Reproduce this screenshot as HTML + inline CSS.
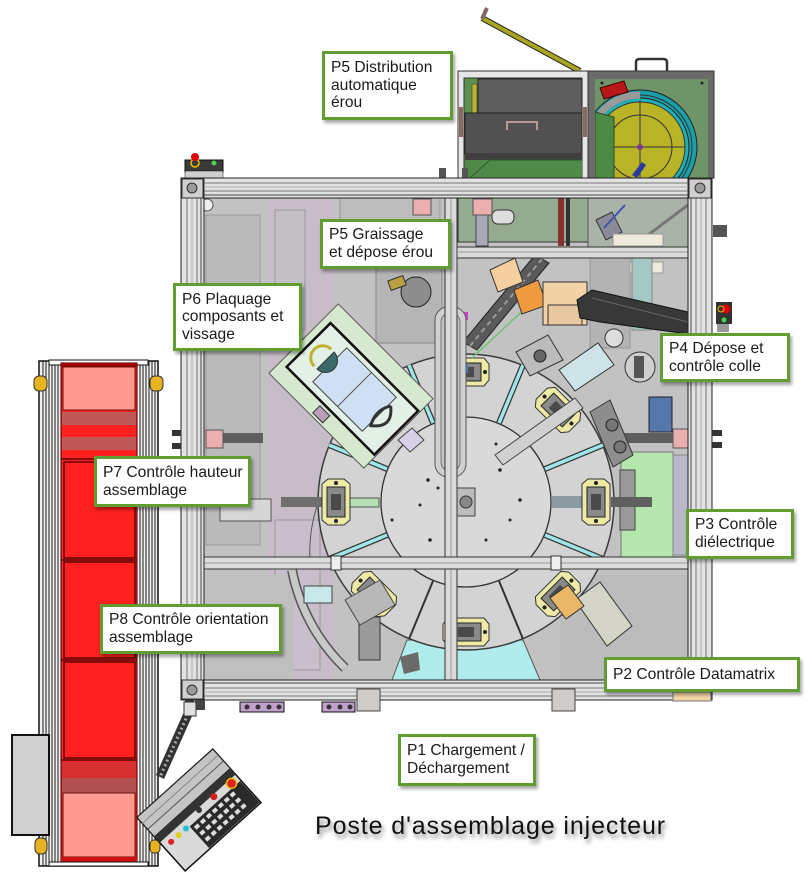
<!DOCTYPE html>
<html><head><meta charset="utf-8">
<style>
html,body{margin:0;padding:0;background:#fff;}
#c{position:relative;width:809px;height:876px;overflow:hidden;background:#fff;font-family:"Liberation Sans",Arial,sans-serif;}
svg{position:absolute;left:0;top:0;}
.lb{position:absolute;box-sizing:border-box;border:3px solid #5f9e2f;background:#fff;box-shadow:2px 3px 3px rgba(0,0,0,0.35);font-size:15.6px;line-height:17.6px;color:#1a1a1a;padding-left:6px;display:flex;align-items:center;white-space:nowrap;}
.title{position:absolute;left:315px;top:814px;font-size:25px;line-height:25px;letter-spacing:0.9px;color:#111;text-shadow:2px 4px 4px rgba(0,0,0,0.45);white-space:nowrap;}
</style></head>
<body><div id="c">
<svg width="809" height="876" viewBox="0 0 809 876" xmlns="http://www.w3.org/2000/svg">
<defs>
<clipPath id="cu"><rect x="595" y="79" width="113" height="99"/></clipPath>
<clipPath id="ci"><rect x="204" y="198" width="484" height="482"/></clipPath>
<g id="fx">
<path d="M-14,-18 L-8,-23 L8,-23 L14,-18 L14,18 L8,23 L-8,23 L-14,18 Z" fill="#eeeaa6" stroke="#333"/>
<rect x="-9" y="-15" width="18" height="30" fill="#8a8a8a" stroke="#222"/>
<rect x="-5" y="-8" width="10" height="16" fill="#4a4a4a"/>
<circle cx="0" cy="-19" r="2" fill="#222"/>
<circle cx="0" cy="19" r="2" fill="#222"/>
</g>
</defs>

<!-- lever -->
<line x1="482" y1="18" x2="580" y2="71" stroke="#222" stroke-width="6"/>
<line x1="482" y1="18" x2="580" y2="71" stroke="#aaa420" stroke-width="4"/>
<line x1="482" y1="19" x2="487" y2="8" stroke="#7d6b62" stroke-width="4"/>

<!-- top-right unit, left part -->
<rect x="458" y="71" width="130" height="107" fill="#e6e6e6" stroke="#333"/>
<rect x="464" y="78" width="118" height="100" fill="#5e8f4e" stroke="#333"/>
<rect x="478" y="79" width="104" height="34" fill="#5e5e5e" stroke="#222"/>
<rect x="472" y="84" width="5" height="29" fill="#b8b030" stroke="#333" stroke-width="0.5"/>
<rect x="465" y="113" width="117" height="41" fill="#515151" stroke="#222"/>
<path d="M507,130 V122 H537 V130" fill="none" stroke="#b89a90" stroke-width="2"/>
<rect x="465" y="153" width="117" height="7" fill="#3f3f3f"/>
<rect x="465" y="160" width="117" height="18" fill="#4f8a48"/>
<line x1="490" y1="160" x2="470" y2="178" stroke="#2f5a2a"/>
<line x1="490" y1="160" x2="582" y2="160" stroke="#2f5a2a"/>
<rect x="459" y="107" width="4" height="30" fill="#8a6a60"/>
<rect x="583" y="107" width="4" height="30" fill="#8a6a60"/>

<!-- top-right unit, right part -->
<rect x="588" y="71" width="126" height="107" fill="#6b6b6b" stroke="#333"/>
<path d="M636,71 V62 Q636,59 640,59 H663 Q667,59 667,62 V71" fill="none" stroke="#333" stroke-width="2.5"/>
<rect x="595" y="79" width="113" height="99" fill="#6e9468"/>
<g clip-path="url(#cu)">
<circle cx="640" cy="147" r="57" fill="#1a9fa8" stroke="#222"/>
<circle cx="640" cy="147" r="52" fill="none" stroke="#333"/>
<circle cx="640" cy="147" r="49" fill="#1fb0b8" stroke="#222"/>
<path d="M588,147 A52,52 0 0 1 640,95" fill="none" stroke="#9a9a9a" stroke-width="7"/>
<circle cx="640" cy="147" r="45" fill="#b9b327" stroke="#333"/>
<circle cx="640" cy="147" r="32" fill="none" stroke="#333"/>
<line x1="595" y1="147" x2="685" y2="147" stroke="#333"/>
<line x1="640" y1="100" x2="640" y2="178" stroke="#333"/>
<circle cx="640" cy="147" r="3" fill="#7a3a8a"/>
<polygon points="595,112 614,117 614,178 595,178" fill="#4d8a45" stroke="#2a4a2a"/>
<polygon points="632,175 642,162 646,165 637,178" fill="#2a3aa0"/>
</g>
<polygon points="600,88 624,81 628,92 604,99" fill="#b81818" stroke="#400"/>
<circle cx="602" cy="83" r="1.5" fill="#222"/><circle cx="702" cy="83" r="1.5" fill="#222"/>

<!-- small top-left control -->
<rect x="185" y="160" width="38" height="12" fill="#3a3a3a" stroke="#111"/>
<rect x="185" y="171" width="38" height="7" fill="#cfcfcf" stroke="#111" stroke-width="0.5"/>
<circle cx="195" cy="163" r="4" fill="none" stroke="#e8c000" stroke-width="1.5"/>
<circle cx="195" cy="157" r="4" fill="#e00000"/>
<circle cx="214" cy="163" r="2.5" fill="#50d050"/>
<rect x="439" y="168" width="7" height="10" fill="#555"/>
<rect x="462" y="168" width="6" height="10" fill="#555"/>

<!-- main frame interior -->
<rect x="181" y="178" width="531" height="522" fill="#e2e2e2" stroke="#222"/>
<g clip-path="url(#ci)">
<rect x="204" y="198" width="484" height="482" fill="#c2c2c2"/>
<rect x="206" y="215" width="54" height="330" fill="#bababa" stroke="#999"/>
<rect x="268" y="198" width="66" height="482" fill="#c7bcc8"/>
<rect x="275" y="210" width="30" height="120" fill="#c2bec4" stroke="#999"/>
<rect x="275" y="520" width="45" height="150" fill="#c9bfcc" stroke="#999"/>
<rect x="340" y="198" width="100" height="70" fill="#bdbdbd" stroke="#999"/>
<circle cx="207" cy="205" r="6" fill="#eee" stroke="#555"/>
<!-- top right interior -->
<rect x="458" y="198" width="130" height="44" fill="#94ab8f" stroke="#333"/>
<rect x="492" y="210" width="22" height="14" rx="6" fill="#ddd" stroke="#333"/>
<rect x="476" y="214" width="12" height="32" fill="#a8a8b8" stroke="#444"/>
<rect x="558" y="198" width="6" height="48" fill="#8a3030"/>
<rect x="566" y="198" width="4" height="48" fill="#333"/>
<rect x="588" y="198" width="100" height="50" fill="#a9b3a8" stroke="#555"/>
<line x1="688" y1="205" x2="628" y2="250" stroke="#777" stroke-width="3"/>
<polygon points="596,220 612,212 622,232 606,240" fill="#8a8a9a" stroke="#333"/>
<line x1="604" y1="228" x2="625" y2="205" stroke="#4050b0" stroke-width="2"/>
<rect x="613" y="234" width="50" height="12" fill="#efeadc" stroke="#999"/>
<rect x="613" y="262" width="50" height="11" fill="#efeadc" stroke="#999"/>
<rect x="632" y="258" width="20" height="72" fill="#a5c8c5" stroke="#888"/>
<rect x="590" y="258" width="40" height="90" fill="#b3b3b3" stroke="#999"/>
<!-- pink blocks -->
<rect x="413" y="199" width="18" height="16" fill="#eab0b0" stroke="#555"/>
<rect x="473" y="199" width="19" height="16" fill="#eab0b0" stroke="#555"/>
<rect x="222" y="433" width="41" height="10" fill="#5e5e5e"/>
<rect x="206" y="430" width="17" height="18" fill="#eab0b0" stroke="#555"/>
<rect x="620" y="433" width="53" height="10" fill="#5e5e5e"/>
<rect x="673" y="429" width="16" height="19" fill="#eab0b0" stroke="#555"/>
<!-- P5 graissage station -->
<rect x="376" y="248" width="66" height="95" fill="#b5b5b5" stroke="#8a8a8a"/>
<circle cx="416" cy="292" r="15" fill="#8e8e8e" stroke="#222"/>
<rect x="389" y="278" width="16" height="10" fill="#b8a040" stroke="#333" transform="rotate(-20 397 283)"/>
<!-- right side details -->
<rect x="649" y="397" width="23" height="35" fill="#5577aa" stroke="#222"/>
<rect x="621" y="452" width="52" height="105" fill="#b5e6ad" stroke="#777"/>
<rect x="620" y="470" width="15" height="60" fill="#9a9a9a" stroke="#444"/>
<rect x="673" y="455" width="15" height="100" fill="#b8b8c8" stroke="#888"/>
<rect x="560" y="575" width="128" height="105" fill="#bcbcbc"/>
<rect x="204" y="575" width="90" height="105" fill="#bfbfbf"/>
<!-- cyan sector -->
<polygon points="392,680 407,640 523,640 540,680" fill="#b0ecec" stroke="#555"/>
<!-- table -->
<path d="M318,503 A148,148 0 0 0 310,560" fill="none" stroke="#555"/>
<circle cx="466" cy="502" r="148" fill="#d3d3d3" stroke="#3a3a3a" stroke-width="1.5"/>
<g stroke-linecap="butt">
<line x1="545" y1="469" x2="603" y2="445" stroke="#333" stroke-width="6"/>
<line x1="545" y1="469" x2="603" y2="445" stroke="#9ee6ea" stroke-width="3.5"/>
<line x1="545" y1="535" x2="603" y2="559" stroke="#333" stroke-width="6"/>
<line x1="545" y1="535" x2="603" y2="559" stroke="#9ee6ea" stroke-width="3.5"/>
<line x1="387" y1="469" x2="329" y2="445" stroke="#333" stroke-width="6"/>
<line x1="387" y1="469" x2="329" y2="445" stroke="#9ee6ea" stroke-width="3.5"/>
<line x1="387" y1="535" x2="329" y2="559" stroke="#333" stroke-width="6"/>
<line x1="387" y1="535" x2="329" y2="559" stroke="#9ee6ea" stroke-width="3.5"/>
<line x1="499" y1="423" x2="523" y2="365" stroke="#333" stroke-width="6"/>
<line x1="499" y1="423" x2="523" y2="365" stroke="#9ee6ea" stroke-width="3.5"/>
<line x1="433" y1="423" x2="409" y2="365" stroke="#333" stroke-width="6"/>
<line x1="433" y1="423" x2="409" y2="365" stroke="#9ee6ea" stroke-width="3.5"/>
<line x1="499" y1="581" x2="523" y2="639" stroke="#333" stroke-width="2"/>
<line x1="433" y1="581" x2="409" y2="639" stroke="#333" stroke-width="2"/>
</g>
<circle cx="466" cy="502" r="85" fill="#d9d9d9" stroke="#333" stroke-width="1.3"/>
<rect x="457" y="488" width="18" height="28" fill="#bcbcbc" stroke="#444"/>
<circle cx="466" cy="502" r="6" fill="#888" stroke="#333"/>
<g fill="#222">
<circle cx="428" cy="480" r="1.8"/><circle cx="438" cy="488" r="1.5"/><circle cx="500" cy="470" r="1.8"/>
<circle cx="510" cy="520" r="1.5"/><circle cx="430" cy="540" r="1.8"/><circle cx="486" cy="540" r="1.5"/>
<circle cx="472" cy="560" r="1.5"/><circle cx="420" cy="505" r="1.5"/><circle cx="520" cy="500" r="1.8"/>
<circle cx="455" cy="455" r="1.5"/><circle cx="496" cy="444" r="1.5"/><circle cx="392" cy="520" r="1.5"/>
</g>
<!-- stations -->
<line x1="281" y1="502" x2="322" y2="502" stroke="#6f6f6f" stroke-width="10"/>
<rect x="220" y="499" width="51" height="22" fill="#d7d7d7" stroke="#555"/>
<rect x="349" y="498" width="30" height="9" fill="#b5e0b5" stroke="#555"/>
<line x1="611" y1="502" x2="652" y2="502" stroke="#5f5f5f" stroke-width="10"/>
<line x1="552" y1="502" x2="583" y2="502" stroke="#8a9aa0" stroke-width="12"/>
<use href="#fx" transform="translate(336,502)"/>
<use href="#fx" transform="translate(596,502) rotate(180)"/>
<use href="#fx" transform="translate(466,632) rotate(90)"/>
<use href="#fx" transform="translate(374,594) rotate(135)"/>
<use href="#fx" transform="translate(558,594) rotate(45)"/>
<use href="#fx" transform="translate(466,372) rotate(90)"/>
<use href="#fx" transform="translate(558,410) rotate(-45)"/>
<!-- P8 area -->
<path d="M292,570 A185,185 0 0 0 345,668" fill="none" stroke="#555" stroke-width="10"/>
<path d="M292,570 A185,185 0 0 0 345,668" fill="none" stroke="#c9c9c9" stroke-width="7"/>
<rect x="304" y="586" width="28" height="17" fill="#c8e8ea" stroke="#444"/>
<rect x="359" y="617" width="21" height="43" fill="#9a9a9a" stroke="#333"/>
<polygon points="400,657 418,652 420,670 404,674" fill="#6a6a6a"/>
<polygon points="345,600 380,580 395,605 360,625" fill="#b8b8b8" stroke="#444"/>
<!-- P2 area -->
<polygon points="575,600 600,582 632,626 607,646" fill="#d4d4c8" stroke="#333"/>
<polygon points="550,598 568,585 584,606 566,619" fill="#e8b868" stroke="#333"/>
<!-- P4 area -->
<polygon points="495,455 575,398 583,408 503,465" fill="#d0d0d0" stroke="#444"/>
<polygon points="590,412 610,400 633,455 613,467" fill="#8e8e8e" stroke="#333"/>
<circle cx="612" cy="425" r="6" fill="#777" stroke="#222"/>
<circle cx="620" cy="447" r="6" fill="#777" stroke="#222"/>
<polygon points="516,352 548,335 563,360 530,376" fill="#bcbcbc" stroke="#333"/>
<circle cx="540" cy="356" r="6" fill="#666" stroke="#222"/>
<polygon points="559,370 598,343 614,365 575,391" fill="#cde3e8" stroke="#333"/>
<circle cx="614" cy="338" r="9" fill="#ddd" stroke="#333"/>
<circle cx="640" cy="367" r="15" fill="#cfcfcf" stroke="#333"/>
<rect x="634" y="356" width="10" height="22" fill="#555"/>
<!-- P5 -> table conveyor -->
<polygon points="463,342 477,350 549,263 535,255" fill="#5a5a5a" stroke="#222"/>
<line x1="470" y1="346" x2="542" y2="259" stroke="#9a9a9a" stroke-width="2" stroke-dasharray="5,4"/>
<line x1="472" y1="358" x2="545" y2="290" stroke="#70c070" stroke-width="1.5"/>
<polygon points="490,270 515,258 523,282 498,292" fill="#f5cfa0" stroke="#333"/>
<polygon points="514,290 538,280 547,305 522,314" fill="#f09a40" stroke="#333"/>
<rect x="543" y="282" width="44" height="43" fill="#f3d2a8" stroke="#333"/>
<rect x="548" y="305" width="34" height="20" fill="#e8c8a0" stroke="#333"/>
<polygon points="577,300 592,290 688,312 688,334 600,322 580,318" fill="#383838" stroke="#111"/>
<line x1="592" y1="298" x2="688" y2="322" stroke="#666"/>
<rect x="462" y="312" width="6" height="8" fill="#d040d0"/>
<rect x="462" y="365" width="6" height="8" fill="#4080e0"/>
<!-- P6 plate -->
<g transform="translate(351,386) rotate(45)">
<rect x="-67" y="-49" width="134" height="98" fill="#d6e8cf" stroke="#555"/>
<rect x="-59" y="-30" width="124" height="62" fill="#e2f0e6" stroke="#111" stroke-width="2.5"/>
<rect x="-30" y="-24" width="70" height="48" fill="#cfe0f5" stroke="#444"/>
<line x1="5" y1="-24" x2="5" y2="24" stroke="#555"/>
<path d="M-36,-12 A12,12 0 0 1 -36,12 Z" fill="#3a6a6a" stroke="#333"/>
<path d="M-40,-12 A12,12 0 0 0 -40,12" fill="none" stroke="#c0b030" stroke-width="3"/>
<path d="M42,-14 Q60,0 42,14 Q34,0 42,-14" fill="none" stroke="#333" stroke-width="3"/>
<rect x="-8" y="36" width="14" height="10" fill="#b8a0b8" stroke="#333"/>
</g>
<polygon points="398,440 412,428 424,440 410,452" fill="#d8d0e8" stroke="#444"/>
<!-- rails inside -->
<rect x="435" y="307" width="31" height="170" rx="13" fill="#d0d0d0" stroke="#555"/>
<rect x="441" y="313" width="19" height="158" rx="9" fill="#c4c4c4" stroke="#777"/>
<rect x="445" y="198" width="12" height="482" fill="#dadada" stroke="#333"/>
<line x1="451" y1="198" x2="451" y2="680" stroke="#999"/>
<rect x="457" y="247" width="231" height="11" fill="#dadada" stroke="#333"/>
<line x1="457" y1="252" x2="688" y2="252" stroke="#999"/>
<rect x="204" y="557" width="484" height="12" fill="#dcdcdc" stroke="#333"/>
<line x1="204" y1="563" x2="688" y2="563" stroke="#999"/>
<rect x="331" y="556" width="10" height="14" fill="#eee" stroke="#333"/>
<rect x="551" y="556" width="10" height="14" fill="#eee" stroke="#333"/>
</g>

<!-- frame rails -->
<g stroke="#222">
<rect x="181" y="178" width="23" height="522" fill="#e2e2e2"/>
<rect x="688" y="178" width="24" height="522" fill="#e2e2e2"/>
<rect x="204" y="178" width="484" height="20" fill="#e2e2e2"/>
<rect x="204" y="680" width="484" height="20" fill="#e2e2e2"/>
</g>
<g stroke-width="1">
<line x1="187" y1="198" x2="187" y2="680" stroke="#777"/>
<line x1="192" y1="198" x2="192" y2="680" stroke="#aaa"/>
<line x1="197" y1="198" x2="197" y2="680" stroke="#777"/>
<line x1="201" y1="198" x2="201" y2="680" stroke="#444"/>
<line x1="691" y1="198" x2="691" y2="680" stroke="#444"/>
<line x1="696" y1="198" x2="696" y2="680" stroke="#777"/>
<line x1="701" y1="198" x2="701" y2="680" stroke="#aaa"/>
<line x1="706" y1="198" x2="706" y2="680" stroke="#777"/>
<line x1="204" y1="183" x2="688" y2="183" stroke="#777"/>
<line x1="204" y1="187" x2="688" y2="187" stroke="#aaa"/>
<line x1="204" y1="191" x2="688" y2="191" stroke="#777"/>
<line x1="204" y1="195" x2="688" y2="195" stroke="#444"/>
<line x1="204" y1="683" x2="688" y2="683" stroke="#444"/>
<line x1="204" y1="688" x2="688" y2="688" stroke="#777"/>
<line x1="204" y1="692" x2="688" y2="692" stroke="#aaa"/>
<line x1="204" y1="696" x2="688" y2="696" stroke="#777"/>
</g>
<g fill="#d0d0d0" stroke="#333">
<rect x="182" y="179" width="21" height="19"/><rect x="689" y="179" width="22" height="19"/>
<rect x="182" y="680" width="21" height="19"/><rect x="689" y="680" width="22" height="19"/>
</g>
<g fill="#9a9a9a" stroke="#333">
<circle cx="192" cy="188" r="5"/><circle cx="700" cy="188" r="5"/>
<circle cx="192" cy="690" r="5"/><circle cx="700" cy="690" r="5"/>
</g>

<!-- outside bits -->
<rect x="716" y="302" width="16" height="22" fill="#333"/>
<circle cx="726" cy="309" r="4.5" fill="#e00000"/>
<circle cx="721" cy="309" r="3" fill="none" stroke="#e8c000"/>
<circle cx="724" cy="320" r="2.5" fill="#50d050"/>
<rect x="717" y="324" width="12" height="8" fill="#999"/>
<rect x="713" y="225" width="14" height="12" fill="#555"/>
<rect x="712" y="430" width="10" height="6" fill="#333"/><rect x="712" y="442" width="10" height="6" fill="#333"/>
<rect x="172" y="430" width="9" height="6" fill="#333"/><rect x="172" y="443" width="9" height="6" fill="#333"/>
<rect x="240" y="702" width="44" height="10" fill="#c2a0cc" stroke="#111"/>
<rect x="322" y="702" width="33" height="10" fill="#c2a0cc" stroke="#111"/>
<g fill="#333"><circle cx="247" cy="707" r="2.5"/><circle cx="258" cy="707" r="2.5"/><circle cx="269" cy="707" r="2.5"/><circle cx="279" cy="707" r="2.5"/><circle cx="329" cy="707" r="2.5"/><circle cx="340" cy="707" r="2.5"/><circle cx="350" cy="707" r="2.5"/></g>
<rect x="357" y="689" width="23" height="22" fill="#cfcbc8" stroke="#444"/>
<rect x="552" y="689" width="23" height="22" fill="#cfcbc8" stroke="#444"/>
<rect x="673" y="692" width="38" height="9" fill="#f2d4a6" stroke="#777"/>
<rect x="185" y="700" width="9" height="12" fill="#333"/><rect x="195" y="700" width="10" height="10" fill="#444"/>

<!-- conveyor -->
<rect x="39" y="361" width="119" height="505" fill="#f0f0f0" stroke="#111" stroke-width="1.5"/>
<g stroke="#1a1a1a" stroke-width="1">
<line x1="43" y1="361" x2="43" y2="866"/><line x1="46" y1="361" x2="46" y2="866"/><line x1="49" y1="361" x2="49" y2="866"/>
<line x1="52" y1="361" x2="52" y2="866"/><line x1="55" y1="361" x2="55" y2="866"/><line x1="58" y1="361" x2="58" y2="866"/>
<line x1="140" y1="361" x2="140" y2="866"/><line x1="143" y1="361" x2="143" y2="866"/><line x1="146" y1="361" x2="146" y2="866"/>
<line x1="149" y1="361" x2="149" y2="866"/><line x1="152" y1="361" x2="152" y2="866"/><line x1="155" y1="361" x2="155" y2="866"/>
</g>
<rect x="49" y="360" width="99" height="5" fill="#fff" stroke="#111"/>
<rect x="61" y="363" width="76" height="499" fill="#ff2020" stroke="#400"/>
<rect x="61" y="363" width="76" height="4" fill="#a00000"/>
<rect x="63" y="367" width="72" height="43" fill="#ff9a90" stroke="#6a1010"/>
<rect x="62" y="412" width="74" height="13" fill="#c05858"/>
<rect x="62" y="437" width="74" height="13" fill="#c05858"/>
<g fill="none" stroke="#3a0000" stroke-width="1.2">
<rect x="64" y="462" width="71" height="96"/>
<rect x="64" y="562" width="71" height="96"/>
<rect x="64" y="662" width="71" height="96"/>
<line x1="61" y1="459" x2="137" y2="459"/><line x1="61" y1="560" x2="137" y2="560"/><line x1="61" y1="660" x2="137" y2="660"/><line x1="61" y1="760" x2="137" y2="760"/>
</g>
<rect x="62" y="762" width="74" height="16" fill="#d83030"/>
<rect x="62" y="778" width="74" height="15" fill="#b05050"/>
<rect x="63" y="793" width="72" height="64" fill="#ff9a90" stroke="#6a1010"/>
<rect x="61" y="857" width="76" height="5" fill="#d01010"/>
<rect x="49" y="862" width="99" height="4" fill="#fff" stroke="#111"/>
<g fill="#e6b422" stroke="#333">
<rect x="34" y="376" width="13" height="15" rx="5"/><rect x="150" y="376" width="13" height="15" rx="5"/>
<rect x="35" y="838" width="12" height="16" rx="5"/><rect x="150" y="840" width="10" height="13" rx="4"/>
</g>
<rect x="12" y="735" width="37" height="100" fill="#d0d0d0" stroke="#111" stroke-width="2"/>

<!-- pendant arm -->
<line x1="188" y1="714" x2="160" y2="777" stroke="#333" stroke-width="9"/>
<line x1="188" y1="714" x2="160" y2="777" stroke="#aaa" stroke-width="3" stroke-dasharray="2,3"/>
<rect x="184" y="702" width="12" height="14" fill="#e0e0e0" stroke="#333"/>
<!-- pendant -->
<g transform="translate(199,810) rotate(-42)">
<rect x="-51" y="-36" width="102" height="72" fill="#dadada" stroke="#111" stroke-width="1.5"/>
<rect x="-51" y="-36" width="102" height="26" fill="#c4c4c4" stroke="#222"/>
<line x1="-51" y1="-28" x2="51" y2="-28" stroke="#888"/>
<line x1="-51" y1="-20" x2="51" y2="-20" stroke="#555"/>
<rect x="-51" y="-10" width="102" height="8" fill="#333"/>
<rect x="-18" y="6" width="68" height="29" fill="#2a2a2a"/>
<g fill="#ddd">
<rect x="-15" y="9" width="5" height="4"/><rect x="-7" y="9" width="5" height="4"/><rect x="1" y="9" width="5" height="4"/><rect x="9" y="9" width="5" height="4"/><rect x="17" y="9" width="5" height="4"/><rect x="25" y="9" width="5" height="4"/><rect x="33" y="9" width="5" height="4"/>
<rect x="-15" y="17" width="5" height="4"/><rect x="-7" y="17" width="5" height="4"/><rect x="1" y="17" width="5" height="4"/><rect x="9" y="17" width="5" height="4"/><rect x="17" y="17" width="5" height="4"/><rect x="25" y="17" width="5" height="4"/><rect x="33" y="17" width="5" height="4"/>
<rect x="-15" y="25" width="5" height="4"/><rect x="-7" y="25" width="5" height="4"/><rect x="1" y="25" width="5" height="4"/><rect x="9" y="25" width="5" height="4"/><rect x="17" y="25" width="5" height="4"/><rect x="25" y="25" width="5" height="4"/><rect x="33" y="25" width="5" height="4"/>
</g>
<circle cx="-42" cy="5" r="3" fill="#e02020"/>
<circle cx="-32" cy="5" r="3" fill="#e0d020"/>
<circle cx="-22" cy="5" r="3" fill="#20c0d0"/>
<circle cx="0" cy="0" r="3" fill="#333"/>
<circle cx="20" cy="0" r="3.5" fill="#d02020"/>
<circle cx="42" cy="2" r="5" fill="#e02020" stroke="#e8c000" stroke-width="1.5"/>
</g>
</svg>

<div class="lb" style="left:322px;top:51px;width:131px;height:69px;">P5 Distribution<br>automatique<br>érou</div>
<div class="lb" style="left:320px;top:219px;width:131px;height:50px;">P5 Graissage<br>et dépose érou</div>
<div class="lb" style="left:173px;top:283px;width:129px;height:68px;">P6 Plaquage<br>composants et<br>vissage</div>
<div class="lb" style="left:660px;top:333px;width:130px;height:49px;">P4 Dépose et<br>contrôle colle</div>
<div class="lb" style="left:94px;top:456px;width:157px;height:51px;">P7 Contrôle hauteur<br>assemblage</div>
<div class="lb" style="left:686px;top:509px;width:108px;height:50px;">P3 Contrôle<br>diélectrique</div>
<div class="lb" style="left:100px;top:604px;width:182px;height:50px;">P8 Contrôle orientation<br>assemblage</div>
<div class="lb" style="left:604px;top:657px;width:196px;height:35px;">P2 Contrôle Datamatrix</div>
<div class="lb" style="left:398px;top:734px;width:138px;height:52px;">P1 Chargement /<br>Déchargement</div>
<div class="title">Poste d'assemblage injecteur</div>
</div></body></html>
